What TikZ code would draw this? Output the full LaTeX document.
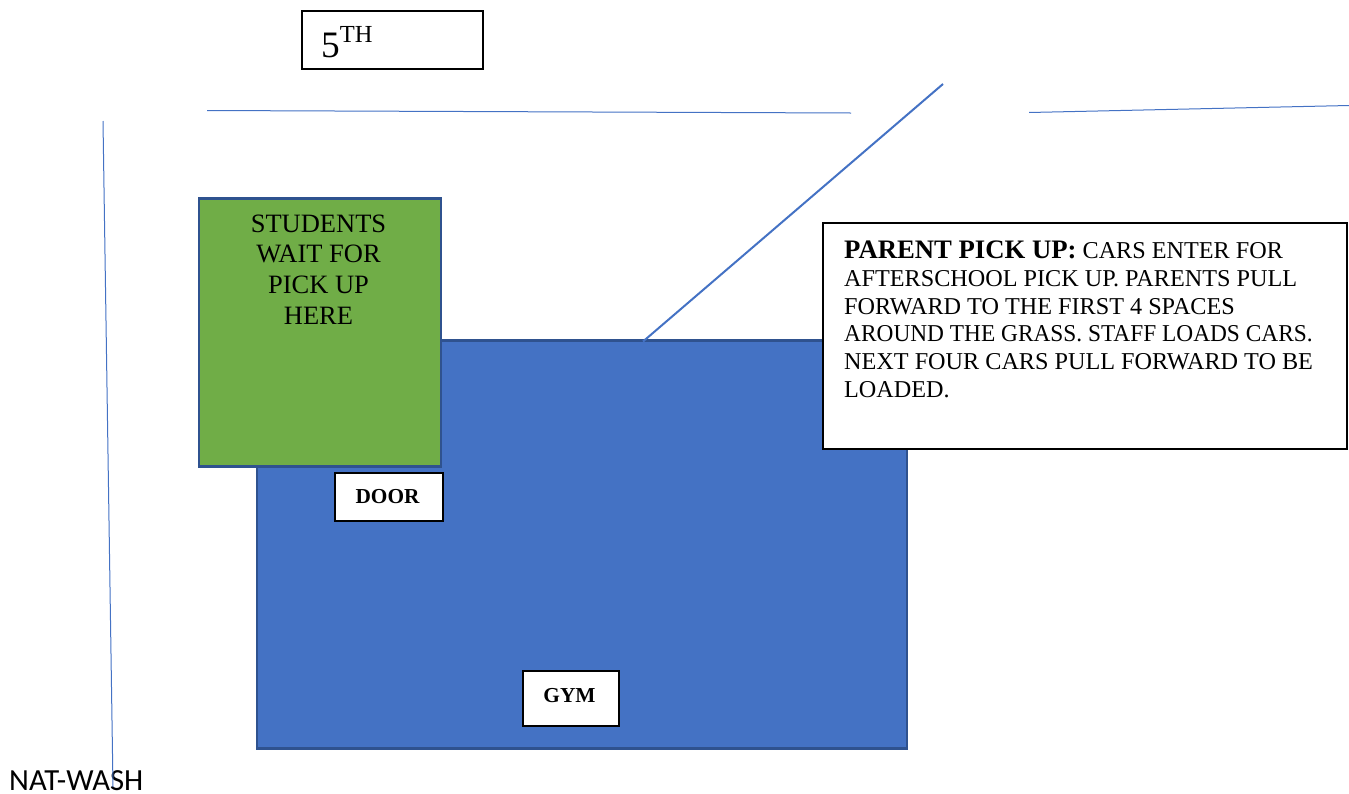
\documentclass[tikz,border=0pt]{standalone}
\usepackage{fontspec}
\usepackage{graphicx}
\setmainfont{Liberation Serif}
\newfontfamily\carlitofont{Carlito}
\definecolor{gymblue}{HTML}{4472C4}
\definecolor{edgeblue}{HTML}{2F528F}
\definecolor{grassgreen}{HTML}{70AD47}
\tikzset{
  x=1pt,y=-1pt,
  road/.style={draw=gymblue,line width=1pt},
  driveway/.style={draw=gymblue,line width=2pt},
  area/.style={draw=edgeblue,line width=2.4pt,inner sep=0pt,outer sep=0pt},
  labelbox/.style={draw=black,fill=white,line width=2pt,inner sep=0pt,outer sep=0pt,align=center},
}
\begin{document}
\begin{tikzpicture}
\useasboundingbox (0,0) rectangle (1349,793);
% building
\node[area,fill=gymblue,minimum width=650pt,minimum height=408pt] (gym) at (582,544.5) {};
% roads
\coordinate (r1a) at (207,110.5); \coordinate (r1b) at (851,113);
\coordinate (r2a) at (1029,112.5); \coordinate (r2b) at (1349,105.5);
\coordinate (r3a) at (103,121); \coordinate (r3b) at (113,787);
\coordinate (d1) at (643,341.5); \coordinate (d2) at (943,84);
\draw[road] (r1a) -- (r1b);
\draw[road] (r2a) -- (r2b);
\draw[driveway] (d1) -- (d2);
% grass
\node[area,fill=grassgreen,minimum width=242pt,minimum height=268pt] (grass) at (320,332.5) {};
\node[anchor=north,align=center,inner sep=0pt,font=\fontsize{26.5}{30.6}\selectfont] (wait) at (318.5,214.5)
  {STUDENTS\\WAIT FOR\\PICK UP\\HERE};
% labels
\node[labelbox,minimum width=108pt,minimum height=48pt] (door) at (389,497) {};
\node[font=\bfseries\fontsize{21.3}{24}\selectfont,inner sep=0pt] (doortext) at (387.5,496.5) {DOOR};
\node[labelbox,minimum width=96pt,minimum height=55pt] (gymbox) at (571,698.5) {};
\node[font=\bfseries\fontsize{21.3}{24}\selectfont,inner sep=0pt] (gymtext) at (569.5,695.5) {GYM};
\node[labelbox,minimum width=181pt,minimum height=58pt] (fifth) at (392,39.5) {};
\node[anchor=base west,inner sep=0pt,font=\fontsize{37.3}{40}\selectfont] (fifthtext) at (321,57)
  {5\raisebox{0.38em}{\fontsize{24.5}{26}\selectfont TH}};
\node[labelbox,minimum width=524pt,minimum height=226pt] (parent) at (1085,336) {};
\node[anchor=north west,align=left,inner sep=0pt,font=\fontsize{24.2}{27.7}\selectfont] (parenttext) at (844,241)
  {{\bfseries\fontsize{26.7}{27.7}\selectfont PARENT PICK UP:} CARS ENTER FOR\\
   AFTERSCHOOL PICK UP. PARENTS PULL\\
   FORWARD TO THE FIRST 4 SPACES\\
   \scalebox{0.965}[1]{AROUND THE GRASS. STAFF LOADS CARS.}\\
   NEXT FOUR CARS PULL FORWARD TO BE\\
   LOADED.};
% street name
\node[anchor=base west,inner sep=0pt,font=\carlitofont\fontsize{30.7}{32}\selectfont] (nat) at (9,790.5) {NAT-WASH};
\draw[road] (r3a) -- (r3b);
\end{tikzpicture}
\end{document}
